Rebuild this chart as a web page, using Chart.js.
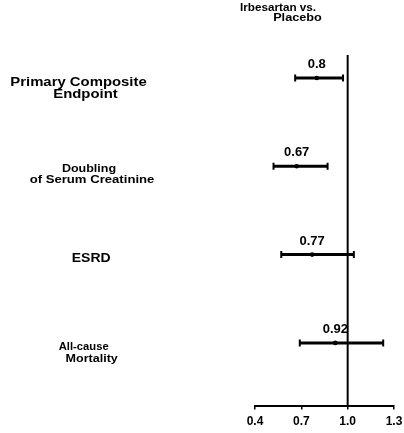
<!DOCTYPE html>
<html>
<head>
<meta charset="utf-8">
<title>Irbesartan vs. Placebo</title>
<script src="https://cdn.jsdelivr.net/npm/chart.js@4/dist/chart.umd.min.js"></script>
<style>
  html, body { margin: 0; padding: 0; background: #fff; }
  canvas { display: block; }
</style>
</head>
<body>
<canvas id="forest" width="404" height="433"></canvas>
<script>
// Outcomes (row order, top to bottom)
const categories = [
  ["Primary Composite", "Endpoint"],
  ["Doubling", "of Serum Creatinine"],
  ["ESRD"],
  ["All-cause", "Mortality"]
];
// Relative risk and 95% confidence limits
const hazardRatios = [0.8, 0.67, 0.77, 0.92];
const lowerCI = [0.66, 0.52, 0.57, 0.69];
const upperCI = [0.97, 0.87, 1.04, 1.23];
const valueLabels = ["0.8", "0.67", "0.77", "0.92"];
const xTicks = [0.4, 0.7, 1.0, 1.3];
const headerLines = ["Irbesartan vs.", "Placebo"];
const referenceValue = 1.0;

const FONT = '"Liberation Sans", Arial, Helvetica, sans-serif';

// Per-line placement of the outcome names: centre x, baseline offset from the row, size, horizontal stretch
const nameStyle = [
  [{cx: 78.5, dy: 8,    size: 12,   sx: 1.24}, {cx: 85.5, dy: 20.5, size: 12,   sx: 1.24}],
  [{cx: 89,   dy: 6,    size: 10.5, sx: 1.19}, {cx: 92,   dy: 16.8, size: 10.5, sx: 1.25}],
  [{cx: 91.2, dy: 7,    size: 12.5, sx: 1.12}],
  [{cx: 83.7, dy: 6.7,  size: 11,   sx: 1.02}, {cx: 91.7, dy: 19.3, size: 11,   sx: 1.14}]
];
const headerStyle = [
  {cx: 278,   y: 10.5, size: 10, sx: 1.17},
  {cx: 297.5, y: 21,   size: 10, sx: 1.27}
];

function stretchedText(ctx, text, cx, y, size, sx) {
  ctx.save();
  ctx.font = 'bold ' + size + 'px ' + FONT;
  ctx.textAlign = 'center';
  ctx.textBaseline = 'alphabetic';
  ctx.fillStyle = '#000';
  ctx.translate(cx, y);
  ctx.scale(sx, 1);
  ctx.fillText(text, 0, 0);
  ctx.restore();
}

const forestDecor = {
  id: 'forestDecor',
  beforeDatasetsDraw(chart) {
    const {ctx, chartArea, scales} = chart;
    const xr = scales.x.getPixelForValue(referenceValue);
    ctx.save();
    ctx.strokeStyle = '#000';
    ctx.lineWidth = 2;
    ctx.beginPath();
    ctx.moveTo(xr, chartArea.top);
    ctx.lineTo(xr, chartArea.bottom);
    ctx.stroke();
    ctx.restore();
  },
  afterDatasetsDraw(chart) {
    const {ctx, scales} = chart;
    // outcome names
    categories.forEach((lines, i) => {
      const yRow = scales.y.getPixelForValue(i);
      lines.forEach((t, k) => {
        const s = nameStyle[i][k];
        stretchedText(ctx, t, s.cx, yRow + s.dy, s.size, s.sx);
      });
    });
    // point estimates written above each bar
    valueLabels.forEach((t, i) => {
      const px = scales.x.getPixelForValue(hazardRatios[i]);
      const py = scales.y.getPixelForValue(i);
      stretchedText(ctx, t, px, py - 10, 13, 1.0);
    });
    // column header
    headerLines.forEach((t, k) => {
      const s = headerStyle[k];
      stretchedText(ctx, t, s.cx, s.y, s.size, s.sx);
    });
  }
};

const intervalSets = categories.map((c, i) => ({
  type: 'scatter',
  data: [{x: lowerCI[i], y: i}, {x: upperCI[i], y: i}],
  showLine: true,
  borderColor: '#000',
  borderWidth: 3,
  pointStyle: 'line',
  rotation: 90,
  pointRadius: 3.5,
  pointBorderWidth: 2,
  pointBorderColor: '#000',
  pointBackgroundColor: '#000'
}));

const estimateSet = {
  type: 'scatter',
  data: hazardRatios.map((v, i) => ({x: v, y: i})),
  pointStyle: 'circle',
  pointRadius: 2.3,
  pointBorderWidth: 0,
  pointBackgroundColor: '#000',
  showLine: false
};

new Chart(document.getElementById('forest'), {
  type: 'scatter',
  data: { datasets: [...intervalSets, estimateSet] },
  options: {
    responsive: false,
    animation: false,
    devicePixelRatio: 1,
    layout: { padding: { left: 255, right: 10, top: 55, bottom: 0 } },
    plugins: {
      legend: { display: false },
      tooltip: { enabled: false },
      title: { display: false }
    },
    scales: {
      x: {
        type: 'linear',
        min: 0.4,
        max: 1.3,
        afterBuildTicks(scale) { scale.ticks = xTicks.map(v => ({value: v})); },
        afterFit(scale) { scale.paddingLeft = 0; scale.paddingRight = 0; },
        ticks: {
          color: '#000',
          padding: 5.7,
          font: { family: FONT, size: 12, weight: 'bold', lineHeight: 1.0 },
          callback: v => Number(v).toFixed(1)
        },
        grid: {
          drawOnChartArea: false,
          drawTicks: true,
          tickLength: 4,
          color: '#000',
          lineWidth: 1.5
        },
        border: { display: true, color: '#000', width: 2 }
      },
      y: {
        type: 'linear',
        display: false,
        reverse: true,
        min: -0.26,
        max: 3.71
      }
    }
  },
  plugins: [forestDecor]
});
</script>
</body>
</html>
